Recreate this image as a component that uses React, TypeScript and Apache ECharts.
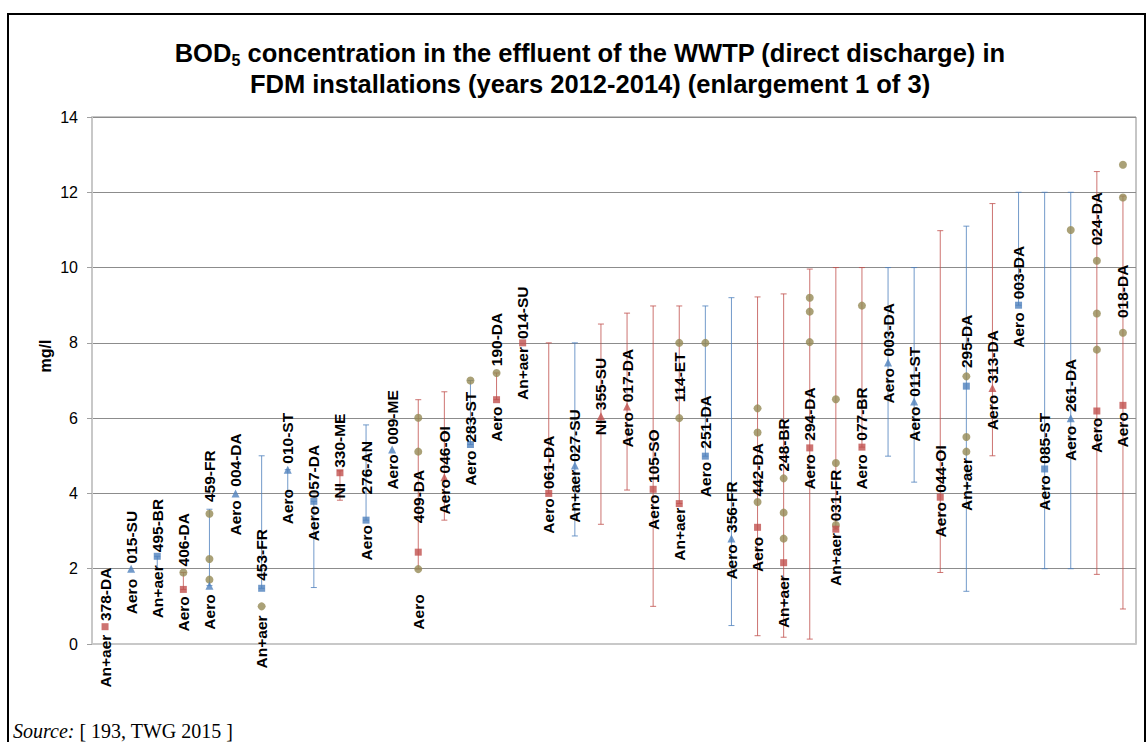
import React, { useEffect, useRef } from 'react';
import * as echarts from 'echarts';

// ---- data ----
const plantIds = ['378-DA','015-SU','495-BR','406-DA','459-FR','004-DA','453-FR','010-ST','057-DA','330-ME','276-AN','009-ME','409-DA','046-OI','283-ST','190-DA','014-SU','061-DA','027-SU','355-SU','017-DA','105-SO','114-ET','251-DA','356-FR','442-DA','248-BR','294-DA','031-FR','077-BR','003-DA','011-ST','044-OI','295-DA','313-DA','003-DA','085-ST','261-DA','024-DA','018-DA'];
const plantTypes = ['An+aer','Aero','An+aer','Aero','Aero','Aero','An+aer','Aero','Aero','NI','Aero','Aero','Aero','Aero','Aero','Aero','An+aer','Aero','An+aer','NI','Aero','Aero','An+aer','Aero','Aero','Aero','An+aer','Aero','An+aer','Aero','Aero','Aero','Aero','An+aer','Aero','Aero','Aero','Aero','Aero','Aero'];
// marker kind of the main value: RS red square, BS blue square, RT red triangle, BT blue triangle
const mainKind = ['RS','BT','BS','RS','BT','BT','BS','BT','BS','RS','BS','BT','RS','RT','BS','RS','RS','RS','BT','RT','RT','RS','RS','BS','BT','RS','RS','RS','RS','RS','BT','BT','RS','BS','RT','BS','BS','BT','RS','RS'];
const mainValue = [0.46,2.0,2.33,1.45,1.55,4.0,1.48,4.63,3.79,4.55,3.29,5.17,2.44,4.43,5.3,6.49,8.0,4.0,4.74,6.05,6.31,4.11,3.73,4.99,2.8,3.1,2.16,5.21,3.05,5.23,7.48,6.44,3.9,6.85,6.8,9.0,4.65,6.0,6.19,6.34];
const rangeMin = [null,null,2.0,1.45,1.55,null,1.48,4.0,1.5,3.82,3.29,null,1.99,3.29,5.3,6.49,null,4.0,2.87,3.18,4.09,1.0,3.73,4.99,0.49,0.22,0.18,0.13,3.05,5.23,4.99,4.3,1.9,1.4,5.0,9.0,2.0,2.0,1.85,0.93];
const rangeMax = [null,null,2.33,1.9,3.58,null,5.0,4.63,3.79,4.6,5.82,null,6.49,6.7,7.0,7.2,null,8.0,8.0,8.5,8.79,8.98,8.98,8.98,9.2,9.22,9.3,9.96,10.0,10.0,10.0,10.0,10.98,11.1,11.7,12.0,12.0,12.0,12.55,11.9];
const yearlyValues: number[][] = [[],[],[],[1.9],[3.46,2.26,1.71],[],[1.0],[],[],[],[],[],[6.01,5.11,1.99],[],[7.0],[7.2],[],[],[],[],[],[],[8.0,6.0],[8.0],[],[6.26,5.62,3.77],[4.4,3.49,2.8],[9.2,8.83,8.02],[6.5,4.81,3.16],[8.99],[],[],[],[7.11,5.5,5.11],[],[],[],[11.0],[10.18,8.78,7.82],[12.73,11.86,8.27]];
// where the type label ends (below) and the ID label starts (above), in mg/l
const typeLabelEnd = [0.25,1.73,2.09,1.27,1.32,3.82,0.76,4.12,3.67,4.28,3.16,5.04,1.32,4.38,5.14,6.31,7.89,3.87,4.63,5.96,6.16,3.97,3.62,4.84,2.65,2.85,1.83,5.04,2.95,5.04,7.33,6.31,3.77,4.94,6.62,8.81,4.48,5.8,6.01,6.16];
const idLabelStart = [0.61,2.14,2.44,2.06,3.77,4.18,1.68,4.79,3.87,4.68,3.97,5.3,3.21,4.53,5.35,7.38,8.1,4.12,4.84,6.21,6.42,4.28,6.42,5.19,2.95,3.92,4.58,5.4,3.26,5.4,7.64,6.57,4.02,7.33,6.92,9.16,4.79,6.16,10.59,8.66];
const yTicks = { min: 0, max: 14, interval: 2 };

const RED = '#C0504D';
const BLUE = '#4F81BD';
const OLIVE = '#958A55';
const FONT = '"Liberation Sans", Arial, sans-serif';
const SERIF = '"Liberation Serif", "Times New Roman", serif';

const kindColor = (k: string) => (k[0] === 'R' ? RED : BLUE);

export default function App() {
  const ref = useRef<HTMLDivElement>(null);
  useEffect(() => {
    if (!ref.current) return;
    const chart = echarts.init(ref.current, undefined, { renderer: 'svg' });

    const mkMain = (kind: string) =>
      mainValue.map((v, i) => (mainKind[i] === kind ? [i, v] : null)).filter((d) => d !== null);
    const olive: number[][] = [];
    yearlyValues.forEach((arr, i) => arr.forEach((v) => olive.push([i, v])));
    const errData = rangeMin
      .map((lo, i) => (lo == null || rangeMax[i] == null ? null : [i, lo, rangeMax[i]]))
      .filter((d) => d !== null);
    const labelData = plantIds.map((_, i) => [i, typeLabelEnd[i], idLabelStart[i]]);

    const option: any = {
      animation: false,
      backgroundColor: '#fff',
      title: {
        left: 585,
        top: 32,
        textAlign: 'center',
        text:
          '{b|BOD}{s|5}{b| concentration in the effluent of the WWTP (direct discharge) in}\n{b|FDM installations (years 2012-2014) (enlargement 1 of 3)}',
        textStyle: {
          rich: {
            b: { fontFamily: FONT, fontWeight: 'bold', fontSize: 25.5, lineHeight: 31, color: '#000' },
            s: { fontFamily: FONT, fontWeight: 'bold', fontSize: 16, lineHeight: 16, verticalAlign: 'bottom', color: '#000' },
          },
        },
      },
      grid: { left: 92, right: 11, top: 117, bottom: 98, show: true, borderColor: '#8C8C8C', borderWidth: 1 },
      xAxis: {
        type: 'category',
        data: plantIds.map((_, i) => String(i)),
        boundaryGap: true,
        axisLabel: { show: false },
        axisTick: { show: false },
        axisLine: { show: true, lineStyle: { color: '#C8C8C8', width: 2 } },
        splitLine: { show: false },
      },
      yAxis: {
        type: 'value',
        min: yTicks.min,
        max: yTicks.max,
        interval: yTicks.interval,
        axisLine: { show: true, lineStyle: { color: '#C8C8C8', width: 2 } },
        axisTick: { show: true, length: 5, lineStyle: { color: '#A0A0A0' } },
        axisLabel: { color: '#000', fontSize: 16, fontFamily: FONT, margin: 14 },
        splitLine: { show: true, lineStyle: { color: '#8C8C8C', width: 1 } },
      },
      graphic: [
        {
          type: 'rect',
          shape: { x: 8, y: 14, width: 1137, height: 780 },
          style: { fill: 'none', stroke: '#000', lineWidth: 2 },
          silent: true,
        },
        {
          type: 'text',
          x: 45,
          y: 356,
          rotation: Math.PI / 2,
          style: { text: 'mg/l', font: `bold 16px ${FONT}`, fill: '#000', align: 'center', verticalAlign: 'middle' },
        },
        {
          type: 'text',
          x: 13,
          y: 741,
          style: {
            text: '{i|Source:} [ 193, TWG 2015 ]',
            fontFamily: SERIF,
            fontSize: 20,
            fill: '#000',
            verticalAlign: 'bottom',
            rich: { i: { fontStyle: 'italic', fontFamily: SERIF, fontSize: 20 } },
          },
        },
      ],
      series: [
        {
          type: 'custom',
          name: 'range',
          data: errData,
          encode: { x: 0, y: [1, 2] },
          z: 2,
          renderItem: (params: any, api: any) => {
            const idx = api.value(0);
            const lo = api.coord([idx, api.value(1)]);
            const hi = api.coord([idx, api.value(2)]);
            const color = kindColor(mainKind[idx]);
            const c = 3;
            const st = { stroke: color, lineWidth: 1, opacity: 0.8 };
            return {
              type: 'group',
              children: [
                { type: 'line', shape: { x1: lo[0], y1: lo[1], x2: hi[0], y2: hi[1] }, style: st },
                { type: 'line', shape: { x1: lo[0] - c, y1: lo[1], x2: lo[0] + c, y2: lo[1] }, style: st },
                { type: 'line', shape: { x1: hi[0] - c, y1: hi[1], x2: hi[0] + c, y2: hi[1] }, style: st },
              ],
            };
          },
        },
        {
          type: 'scatter', name: 'years', data: olive, symbol: 'circle', symbolSize: 8,
          itemStyle: { color: OLIVE }, z: 3,
        },
        { type: 'scatter', name: 'RS', data: mkMain('RS'), symbol: 'rect', symbolSize: 7, itemStyle: { color: RED }, z: 4 },
        { type: 'scatter', name: 'BS', data: mkMain('BS'), symbol: 'rect', symbolSize: 7, itemStyle: { color: BLUE }, z: 4 },
        { type: 'scatter', name: 'RT', data: mkMain('RT'), symbol: 'triangle', symbolSize: 8, itemStyle: { color: RED }, z: 4 },
        { type: 'scatter', name: 'BT', data: mkMain('BT'), symbol: 'triangle', symbolSize: 8, itemStyle: { color: BLUE }, z: 4 },
        {
          type: 'custom',
          name: 'labels',
          data: labelData,
          encode: { x: 0, y: [1, 2] },
          z: 5,
          clip: false,
          renderItem: (params: any, api: any) => {
            const idx = api.value(0);
            const a = api.coord([idx, api.value(1)]);
            const b = api.coord([idx, api.value(2)]);
            const font = `bold 15.5px ${FONT}`;
            return {
              type: 'group',
              children: [
                {
                  type: 'text', x: a[0], y: a[1], rotation: Math.PI / 2,
                  style: { text: plantTypes[idx], font, fill: '#000', align: 'right', verticalAlign: 'middle' },
                },
                {
                  type: 'text', x: b[0], y: b[1], rotation: Math.PI / 2,
                  style: { text: plantIds[idx], font, fill: '#000', align: 'left', verticalAlign: 'middle' },
                },
              ],
            };
          },
        },
      ],
    };
    chart.setOption(option);
    return () => chart.dispose();
  }, []);
  return (
    <div
      ref={ref}
      style={{ position: 'fixed', left: 0, top: 0, width: 1147, height: 742, background: '#fff' }}
    />
  );
}
